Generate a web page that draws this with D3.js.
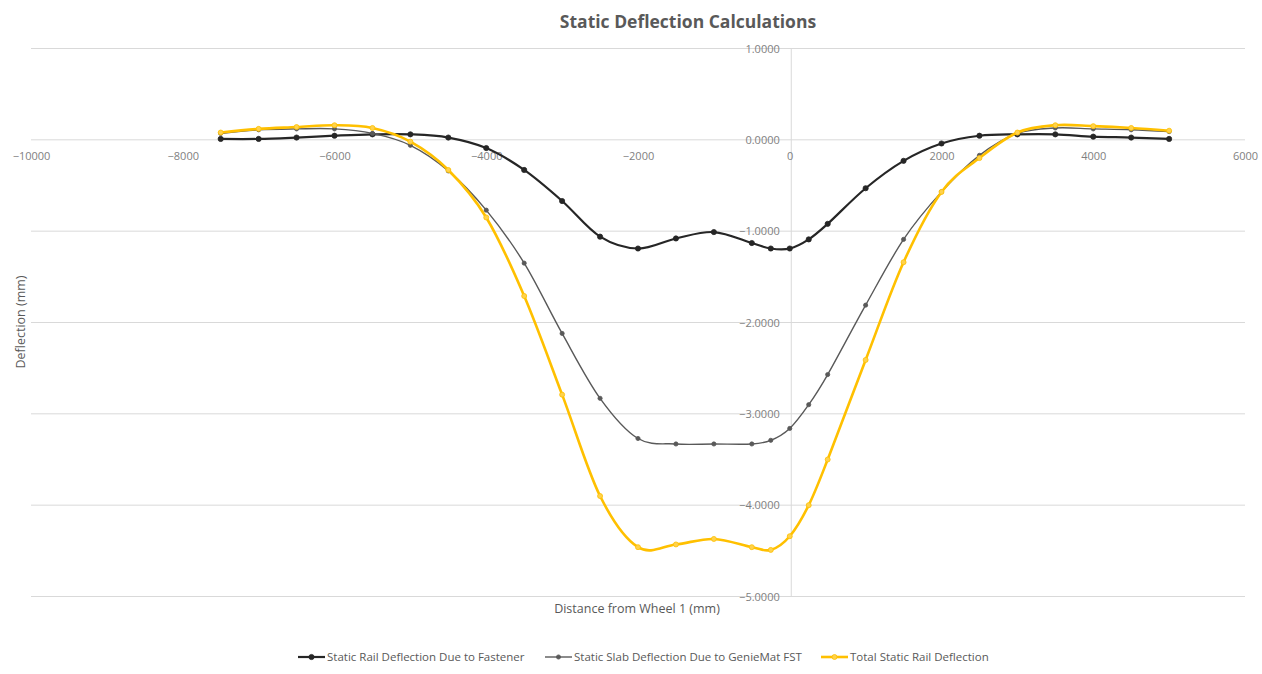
<!DOCTYPE html>
<html>
<head>
<meta charset="utf-8">
<script src="https://cdn.jsdelivr.net/npm/d3@7"></script>
<style>
  html, body { margin: 0; padding: 0; background: #fff; }
  svg { display: block; font-family: "Open Sans", "DejaVu Sans", sans-serif; }
</style>
</head>
<body>
<svg id="chart" width="1262" height="674"></svg>
<script>
// Distance from wheel 1 (mm) at each calculation point
const distances = [-7500, -7000, -6500, -6000, -5500, -5000, -4500, -4000, -3500, -3000,
  -2500, -2000, -1500, -1000, -500, -250, 0, 250, 500, 1000, 1500, 2000, 2500, 3000,
  3500, 4000, 4500, 5000];

// Deflection (mm) for each series
const railFastener = [0.01, 0.01, 0.025, 0.045, 0.06, 0.06, 0.025, -0.09, -0.33, -0.67,
  -1.06, -1.19, -1.08, -1.01, -1.13, -1.19, -1.19, -1.09, -0.92, -0.53, -0.23, -0.04, 0.045, 0.06,
  0.06, 0.035, 0.025, 0.01];
const slabGeniemat = [0.07, 0.11, 0.12, 0.12, 0.07, -0.06, -0.34, -0.77, -1.35, -2.12,
  -2.83, -3.27, -3.33, -3.33, -3.33, -3.29, -3.16, -2.9, -2.57, -1.81, -1.09, -0.57, -0.17, 0.07,
  0.13, 0.12, 0.11, 0.09];
const totalRail = [0.08, 0.12, 0.14, 0.16, 0.13, -0.02, -0.33, -0.85, -1.71, -2.79,
  -3.9, -4.46, -4.43, -4.37, -4.46, -4.49, -4.34, -4.0, -3.5, -2.41, -1.34, -0.57, -0.2, 0.08,
  0.16, 0.15, 0.13, 0.1];

const xTicks = [-10000, -8000, -6000, -4000, -2000, 0, 2000, 4000, 6000];
const yTicks = [1, 0, -1, -2, -3, -4, -5];

const seriesNames = ["Static Rail Deflection Due to Fastener",
  "Static Slab Deflection Due to GenieMat FST",
  "Total Static Rail Deflection"];

const svg = d3.select("#chart");

const x = d3.scaleLinear().domain([-10000, 6000]).range([31, 1245]);
const y = d3.scaleLinear().domain([-5, 1]).range([596.5, 48.5]);

// Title
svg.append("text")
  .attr("x", 688).attr("y", 28)
  .attr("text-anchor", "middle")
  .attr("font-size", 17.5).attr("font-weight", "bold")
  .attr("fill", "#595959")
  .text("Static Deflection Calculations");

// Horizontal gridlines
svg.append("g").selectAll("line").data(yTicks).join("line")
  .attr("x1", x(-10000)).attr("x2", x(6000))
  .attr("y1", d => y(d)).attr("y2", d => y(d))
  .attr("stroke", "#d9d9d9").attr("stroke-width", 1);

// Vertical axis through x = 0
svg.append("line")
  .attr("x1", x(0) + 1.5).attr("x2", x(0) + 1.5)
  .attr("y1", y(1)).attr("y2", y(-5))
  .attr("stroke", "#d9d9d9").attr("stroke-width", 1);

// Y axis labels (to the left of the x = 0 axis)
const yAxis = d3.axisLeft(y).tickValues(yTicks).tickSize(0).tickPadding(0)
  .tickFormat(d3.format(".4f"));
const yAxisG = svg.append("g").attr("transform", `translate(${x(0) - 10},0)`).call(yAxis);
yAxisG.select(".domain").remove();
yAxisG.selectAll("text").attr("font-size", 11).attr("fill", "#7f7f7f")
  .attr("font-family", "Open Sans, sans-serif");

// X axis labels (below the y = 0 line)
const xAxis = d3.axisBottom(x).tickValues(xTicks).tickSize(0).tickPadding(0)
  .tickFormat(d3.format("d"));
const xAxisG = svg.append("g").attr("transform", `translate(0,${y(0) + 12})`).call(xAxis);
xAxisG.select(".domain").remove();
xAxisG.selectAll("text").attr("font-size", 11).attr("fill", "#7f7f7f")
  .attr("font-family", "Open Sans, sans-serif");

// Axis titles
svg.append("text")
  .attr("x", 637).attr("y", 613)
  .attr("text-anchor", "middle").attr("font-size", 12.5).attr("fill", "#595959")
  .text("Distance from Wheel 1 (mm)");
svg.append("text")
  .attr("transform", "translate(25,322) rotate(-90)")
  .attr("text-anchor", "middle").attr("font-size", 12.5).attr("fill", "#595959")
  .text("Deflection (mm)");

// Series
const series = [
  { name: seriesNames[0], values: railFastener, color: "#262626", width: 2.2, r: 2.6, fill: "#262626" },
  { name: seriesNames[1], values: slabGeniemat, color: "#595959", width: 1.4, r: 2.1, fill: "#595959" },
  { name: seriesNames[2], values: totalRail, color: "#ffc000", width: 2.6, r: 2.5, fill: "#ffd24d" }
];

const line = d3.line()
  .x((d, i) => x(distances[i]))
  .y(d => y(d))
  .curve(d3.curveCardinal.tension(0));

const plot = svg.append("g");
series.forEach(s => {
  const g = plot.append("g");
  g.append("path")
    .attr("d", line(s.values))
    .attr("fill", "none")
    .attr("stroke", s.color)
    .attr("stroke-width", s.width)
    .attr("stroke-linejoin", "round");
  g.selectAll("circle").data(s.values).join("circle")
    .attr("cx", (d, i) => x(distances[i]))
    .attr("cy", d => y(d))
    .attr("r", s.r)
    .attr("fill", s.fill)
    .attr("stroke", s.color)
    .attr("stroke-width", 0.8);
});

// Legend
const legendX = [298, 545, 821];
const legend = svg.append("g");
series.forEach((s, i) => {
  const g = legend.append("g").attr("transform", `translate(${legendX[i]},657)`);
  g.append("line").attr("x1", 0).attr("x2", 27).attr("y1", 0).attr("y2", 0)
    .attr("stroke", s.color).attr("stroke-width", s.width);
  g.append("circle").attr("cx", 13.5).attr("cy", 0).attr("r", s.r)
    .attr("fill", s.fill).attr("stroke", s.color).attr("stroke-width", 0.8);
  g.append("text").attr("x", 29).attr("y", 4)
    .attr("font-size", 11.5).attr("fill", "#595959")
    .text(s.name);
});
</script>
</body>
</html>
